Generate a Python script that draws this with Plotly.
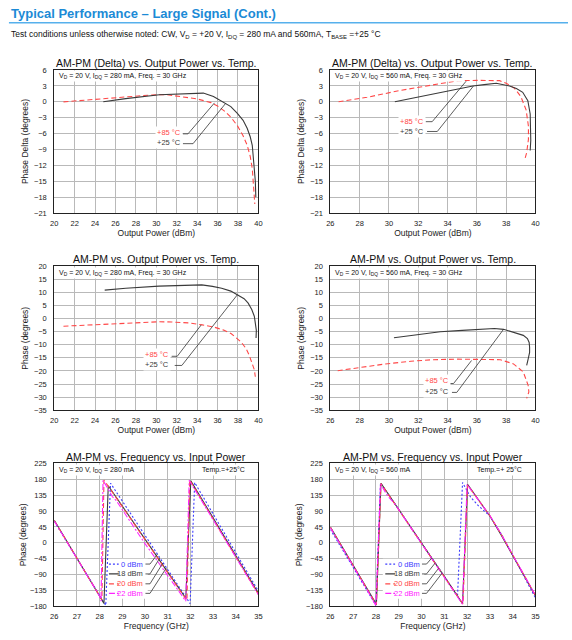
import plotly.graph_objects as go

FONT = "Liberation Sans, Arial, sans-serif"

# ---------------- DATA ----------------
# Plot 1: AM-PM (Delta), IDQ = 280 mA
p1_pout_25 = [24.8, 27.0, 30.3, 32.5, 34.6, 35.6, 36.65, 37.3, 37.94, 38.5, 38.9, 39.2, 39.4, 39.6, 39.7, 39.75]
p1_delta_25 = [0.0, 0.6, 1.35, 1.5, 1.65, 1.0, -0.1, -0.9, -2.2, -3.5, -5.0, -6.6, -8.2, -11.9, -15.0, -18.0]
p1_pout_85 = [20.9, 22.0, 24.8, 27.0, 29.5, 31.0, 32.5, 34.0, 35.36, 36.0, 36.65, 37.3, 37.94, 38.5, 38.9, 39.2, 39.4, 39.55, 39.65]
p1_delta_85 = [0.0, 0.15, 0.55, 0.95, 1.3, 1.35, 1.0, 0.55, -0.15, -0.8, -1.7, -2.9, -4.5, -6.4, -8.2, -10.3, -12.6, -16.3, -19.3]

# Plot 2: AM-PM (Delta), IDQ = 560 mA
p2_pout_25 = [30.4, 32.0, 33.7, 35.73, 36.5, 37.32, 38.23, 38.7, 39.13, 39.48, 39.64, 39.68, 39.68, 39.64]
p2_delta_25 = [0.0, 0.9, 1.8, 3.0, 3.25, 3.5, 3.0, 2.5, 1.8, 0.2, -2.3, -4.8, -7.3, -9.2]
p2_pout_85 = [26.56, 28.5, 30.85, 33.0, 34.7, 36.0, 37.55, 38.0, 38.57, 39.0, 39.36, 39.52, 39.52, 39.4, 39.3]
p2_delta_85 = [0.0, 0.85, 2.2, 3.2, 4.0, 4.05, 4.0, 3.5, 2.56, 1.0, -1.5, -4.6, -7.1, -9.6, -10.6]

# Plot 3: AM-PM, IDQ = 280 mA
p3_pout_25 = [24.94, 27.0, 30.26, 32.5, 34.45, 35.5, 36.4, 37.3, 38.0, 38.6, 39.0, 39.35, 39.6, 39.75, 39.8, 39.77]
p3_phase_25 = [10.9, 11.6, 12.4, 12.7, 12.9, 12.3, 11.6, 10.5, 9.1, 7.6, 5.9, 3.5, 0.9, -2.5, -4.5, -7.4]
p3_pout_85 = [20.9, 22.5, 24.8, 27.5, 30.26, 31.5, 33.2, 34.5, 35.7, 36.6, 37.35, 38.3, 38.8, 39.1, 39.4, 39.6, 39.7]
p3_phase_85 = [-2.9, -2.6, -2.1, -1.6, -1.2, -1.3, -1.65, -2.4, -3.3, -4.4, -5.8, -8.9, -11.5, -14.0, -17.0, -19.5, -22.2]

# Plot 4: AM-PM, IDQ = 560 mA
p4_pout_25 = [30.34, 32.0, 33.5, 35.0, 36.4, 37.2, 37.82, 38.5, 39.17, 39.45, 39.57, 39.6, 39.6, 39.5, 39.4]
p4_phase_25 = [-7.3, -6.0, -5.0, -4.5, -4.1, -3.8, -4.1, -5.3, -6.4, -7.6, -9.1, -11.0, -12.9, -15.5, -17.9]
p4_pout_85 = [26.5, 28.0, 29.66, 31.5, 33.0, 34.68, 36.5, 37.6, 38.5, 39.17, 39.5, 39.55, 39.4]
p4_phase_85 = [-19.9, -18.7, -17.4, -16.3, -15.7, -15.5, -15.5, -15.7, -17.3, -20.4, -25.5, -28.0, -30.5]

# Plot 5: AM-PM vs Frequency, IDQ = 280 mA
p5_f_0 = [26.0, 26.5, 27.0, 27.5, 28.0, 28.27, 28.48, 29.0, 29.5, 30.0, 30.5, 31.0, 31.5, 31.99, 32.19, 32.5, 33.0, 33.5, 34.0, 34.5, 35.0]
p5_ph_0 = [61, 8, -45, -98, -151, -177, 169, 119, 71, 22, -27, -75, -124, -172, 171, 137, 82, 27, -27, -82, -137]
p5_f_18 = [26.0, 26.5, 27.0, 27.5, 28.0, 28.19, 28.38, 29.0, 29.5, 30.0, 30.5, 31.0, 31.5, 31.8, 32.02, 32.5, 33.0, 33.5, 34.0, 34.5, 35.0]
p5_ph_18 = [64, 11, -42, -95, -149, -172, 162, 105, 58, 11, -36, -83, -129, -157, 176, 125, 71, 18, -36, -89, -143]
p5_f_20 = [26.0, 26.5, 27.0, 27.5, 28.0, 28.1, 28.19, 28.5, 29.0, 29.5, 30.0, 30.5, 31.0, 31.5, 31.85, 31.97, 32.5, 33.0, 33.5, 34.0, 34.5, 35.0]
p5_ph_20 = [63, 10, -43, -96, -150, -161, 178, 149, 102, 56, 9, -37, -83, -130, -163, 178, 122, 69, 15, -39, -92, -146]
p5_f_22 = [26.0, 26.5, 27.0, 27.5, 28.0, 28.06, 28.15, 28.35, 28.55, 28.75, 29.0, 29.3, 29.6, 30.0, 30.5, 31.0, 31.5, 31.8, 31.95, 32.5, 33.0, 33.5, 34.0, 34.5, 35.0]
p5_ph_22 = [62, 9, -44, -97, -151, -165, 177, 155, 132, 118, 93, 66, 36, -2, -47, -92, -137, -165, 177, 120, 67, 13, -40, -94, -147]

# Plot 6: AM-PM vs Frequency, IDQ = 560 mA
p6_f_0 = [26.0, 26.5, 27.0, 27.5, 28.0, 28.2, 28.5, 29.0, 29.5, 30.0, 30.5, 31.0, 31.58, 31.8, 32.16, 32.5, 33.0, 33.5, 34.0, 34.5, 35.0]
p6_ph_0 = [38, -16, -70, -124, -177, 170, 142, 95, 48, 1, -47, -95, -150, 171, 129, 105, 76, 25, -35, -95, -156]
p6_f_18 = [26.0, 26.5, 27.0, 27.5, 28.02, 28.22, 28.5, 29.0, 29.5, 30.0, 30.5, 31.0, 31.5, 31.8, 32.02, 32.5, 33.0, 33.5, 34.0, 34.5, 35.0]
p6_ph_18 = [45, -9, -63, -118, -174, 169, 142, 95, 47, 0, -48, -95, -143, -172, 166, 121, 76, 22, -35, -92, -150]
p6_f_20 = [26.0, 26.5, 27.0, 27.5, 28.02, 28.22, 28.5, 29.0, 29.5, 30.0, 30.5, 31.0, 31.5, 31.82, 32.02, 32.5, 33.0, 33.5, 34.0, 34.5, 35.0]
p6_ph_20 = [44, -10, -64, -119, -175, 168, 141, 94, 46, -1, -49, -96, -144, -173, 164, 121, 77, 24, -33, -91, -149]
p6_f_22 = [26.0, 26.5, 27.0, 27.5, 28.0, 28.2, 28.4, 28.55, 28.8, 29.0, 29.5, 30.0, 30.5, 31.0, 31.5, 31.8, 32.0, 32.5, 33.0, 33.5, 34.0, 34.5, 35.0]
p6_ph_22 = [43, -11, -65, -120, -178, 167, 145, 130, 113, 94, 47, 0, -48, -96, -144, -174, 165, 121, 77, 24, -33, -91, -149]

# tick values
pout_ticks_a = [20, 22, 24, 26, 28, 30, 32, 34, 36, 38, 40]
pout_ticks_b = [26, 28, 30, 32, 34, 36, 38, 40]
delta_ticks = [-21, -18, -15, -12, -9, -6, -3, 0, 3, 6]
phase_ticks = [-35, -30, -25, -20, -15, -10, -5, 0, 5, 10, 15, 20]
freq_ticks = [26, 27, 28, 29, 30, 31, 32, 33, 34, 35]
fphase_ticks = [-180, -135, -90, -45, 0, 45, 90, 135, 180, 225]

# ---------------- STYLE ----------------
BLACK = "#3a3a3a"
RED = "#ff4848"
BLUE = "#3c3cff"
MAG = "#ff22ff"
GRID = "#b9b9b9"

fig = go.Figure()


def line(x, y, ax, color, dash, name, width=1.1):
    fig.add_trace(go.Scatter(x=x, y=y, mode="lines", name=name, showlegend=False,
                             xaxis="x" + ax, yaxis="y" + ax,
                             line=dict(color=color, dash=dash, width=width)))


line(p1_pout_85, p1_delta_85, "", RED, "5px,3px", "+85 °C")
line(p1_pout_25, p1_delta_25, "", BLACK, "solid", "+25 °C")
line(p2_pout_85, p2_delta_85, "2", RED, "5px,3px", "+85 °C")
line(p2_pout_25, p2_delta_25, "2", BLACK, "solid", "+25 °C")
line(p3_pout_85, p3_phase_85, "3", RED, "5px,3px", "+85 °C")
line(p3_pout_25, p3_phase_25, "3", BLACK, "solid", "+25 °C")
line(p4_pout_85, p4_phase_85, "4", RED, "5px,3px", "+85 °C")
line(p4_pout_25, p4_phase_25, "4", BLACK, "solid", "+25 °C")

line(p5_f_0, p5_ph_0, "5", BLUE, "2px,2px", "0 dBm")
line(p5_f_18, p5_ph_18, "5", BLACK, "solid", "18 dBm")
line(p5_f_20, p5_ph_20, "5", RED, "5px,3px", "20 dBm")
line(p5_f_22, p5_ph_22, "5", MAG, "6px,2px,2px,2px", "22 dBm")
line(p6_f_0, p6_ph_0, "6", BLUE, "2px,2px", "0 dBm")
line(p6_f_18, p6_ph_18, "6", BLACK, "solid", "18 dBm")
line(p6_f_20, p6_ph_20, "6", RED, "5px,3px", "20 dBm")
line(p6_f_22, p6_ph_22, "6", MAG, "6px,2px,2px,2px", "22 dBm")

XL = [51 / 572, 258 / 572]
XR = [331 / 572, 539 / 572]
R1 = [1 - 212 / 640, 1 - 67 / 640]
R2 = [1 - 412 / 640, 1 - 266 / 640]
R3 = [1 - 611 / 640, 1 - 466 / 640]


def axis(domain, rng, tickvals, anchor, title, standoff, lblstand):
    return dict(domain=domain, range=rng, tickvals=tickvals, anchor=anchor,
                showgrid=True, gridcolor=GRID, gridwidth=1, zeroline=False,
                showline=True, mirror=True, linecolor="#222", linewidth=1,
                ticks="", ticklabelstandoff=lblstand,
                tickfont=dict(family=FONT, size=7.5, color="#222"),
                title=dict(text=title, standoff=standoff,
                           font=dict(family=FONT, size=8.5, color="#222")),
                fixedrange=True)


lay = dict(
    xaxis=axis(XL, [20, 40], pout_ticks_a, "y", "Output Power (dBm)", 0, 3),
    yaxis=axis(R1, [-21, 6], delta_ticks, "x", "Phase Delta (degrees)", 4, 5),
    xaxis2=axis(XR, [26, 40], pout_ticks_b, "y2", "Output Power (dBm)", 0, 3),
    yaxis2=axis(R1, [-21, 6], delta_ticks, "x2", "Phase Delta (degrees)", 4, 5),
    xaxis3=axis(XL, [20, 40], pout_ticks_a, "y3", "Output Power (dBm)", 0, 3),
    yaxis3=axis(R2, [-35, 20], phase_ticks, "x3", "Phase (degrees)", 4, 5),
    xaxis4=axis(XR, [26, 40], pout_ticks_b, "y4", "Output Power (dBm)", 0, 3),
    yaxis4=axis(R2, [-35, 20], phase_ticks, "x4", "Phase (degrees)", 4, 5),
    xaxis5=axis(XL, [26, 35], freq_ticks, "y5", "Frequency (GHz)", 1, 3),
    yaxis5=axis(R3, [-180, 225], fphase_ticks, "x5", "Phase (degrees)", 1, 5),
    xaxis6=axis(XR, [26, 35], freq_ticks, "y6", "Frequency (GHz)", 1, 3),
    yaxis6=axis(R3, [-180, 225], fphase_ticks, "x6", "Phase (degrees)", 1, 5),
)

ann = []
shapes = []

# header
ann.append(dict(xref="paper", yref="paper", x=5 / 572, y=1 - 9.5 / 640, xanchor="left", yanchor="middle",
                text="<b>Typical Performance – Large Signal (Cont.)</b>", showarrow=False,
                font=dict(family=FONT, size=13, color="#1b8ad6")))
shapes.append(dict(type="line", xref="paper", yref="paper", x0=5 / 572, x1=1, y0=1 - 19 / 640, y1=1 - 19 / 640,
                   line=dict(color="#56b0ec", width=1.5)))
ann.append(dict(xref="paper", yref="paper", x=5 / 572, y=1 - 30.5 / 640, xanchor="left", yanchor="middle",
                text="Test conditions unless otherwise noted: CW, V<sub>D</sub> = +20 V, I<sub>DQ</sub> = 280 mA and 560mA, T<sub>BASE</sub> =+25 °C",
                showarrow=False, font=dict(family=FONT, size=8.5, color="#111")))

# subplot titles
titles = [("AM-PM (Delta) vs. Output Power vs. Temp.", XL, 59.5),
          ("AM-PM (Delta) vs. Output Power vs. Temp.", XR, 59.5),
          ("AM-PM vs. Output Power vs. Temp.", XL, 259),
          ("AM-PM vs. Output Power vs. Temp.", XR, 259),
          ("AM-PM vs. Frequency vs. Input Power", XL, 459),
          ("AM-PM vs. Frequency vs. Input Power", XR, 459)]
for t, xd, yp in titles:
    ann.append(dict(xref="paper", yref="paper", x=(xd[0] + xd[1]) / 2, y=1 - yp / 640,
                    xanchor="center", yanchor="middle", text=t, showarrow=False,
                    font=dict(family=FONT, size=10.5, color="#111")))

# condition insets
insets = [("", "V<sub>D</sub> = 20 V, I<sub>DQ</sub> = 280 mA, Freq. = 30 GHz"),
          ("2", "V<sub>D</sub> = 20 V, I<sub>DQ</sub> = 560 mA, Freq. = 30 GHz"),
          ("3", "V<sub>D</sub> = 20 V, I<sub>DQ</sub> = 280 mA, Freq. = 30 GHz"),
          ("4", "V<sub>D</sub> = 20 V, I<sub>DQ</sub> = 560 mA, Freq. = 30 GHz"),
          ("5", "V<sub>D</sub> = 20 V, I<sub>DQ</sub> = 280 mA"),
          ("6", "V<sub>D</sub> = 20 V, I<sub>DQ</sub> = 560 mA")]
for a, t in insets:
    ann.append(dict(xref="x" + a + " domain", yref="y" + a + " domain", x=0.015, y=0.955,
                    xanchor="left", yanchor="middle", text=t, showarrow=False, bgcolor="white",
                    font=dict(family=FONT, size=7, color="#111")))
for a, t in [("5", "Temp.=+25°C"), ("6", "Temp.=+ 25°C")]:
    ann.append(dict(xref="x" + a + " domain", yref="y" + a + " domain", x=0.945, y=0.955,
                    xanchor="right", yanchor="middle", text=t, showarrow=False, bgcolor="white",
                    font=dict(family=FONT, size=7, color="#111")))


def label(a, x, y, text, color):
    ann.append(dict(xref="x" + a, yref="y" + a, x=x, y=y, xanchor="center", yanchor="middle",
                    text=text, showarrow=False, bgcolor="white",
                    font=dict(family=FONT, size=7.5, color=color)))


def leader(a, pts):
    for (x0, y0), (x1, y1) in zip(pts[:-1], pts[1:]):
        shapes.append(dict(type="line", xref="x" + a, yref="y" + a, x0=x0, y0=y0, x1=x1, y1=y1,
                           line=dict(color="#333", width=0.8)))


# top-left
label("", 31.2, -5.85, "+85 °C", RED)
label("", 31.2, -7.7, "+25 °C", BLACK)
leader("", [(32.6, -6.05), (33.1, -6.05), (35.7, -0.2)])
leader("", [(32.6, -7.9), (33.6, -7.9), (36.8, -0.27)])
# top-right
label("2", 31.6, -3.7, "+85 °C", RED)
label("2", 31.6, -5.6, "+25 °C", BLACK)
leader("2", [(32.5, -3.75), (32.95, -3.75), (35.27, 3.9)])
leader("2", [(32.6, -5.6), (33.3, -5.6), (35.76, 2.96)])
# mid-left
label("3", 30.05, -13.8, "+85 °C", RED)
label("3", 30.05, -17.5, "+25 °C", BLACK)
leader("3", [(31.5, -14.4), (32.05, -14.4), (34.4, -2.4)])
leader("3", [(31.8, -17.9), (32.5, -17.9), (37.94, 9.1)])
# mid-right
label("4", 33.29, -23.6, "+85 °C", RED)
label("4", 33.29, -27.7, "+25 °C", BLACK)
leader("4", [(34.08, -24.8), (34.41, -24.8), (35.64, -16.0)])
leader("4", [(34.3, -28.2), (34.63, -28.2), (37.82, -4.1)])

# bottom legends
legend_items = [("0 dBm", BLUE, "2px,2px", -60), ("18 dBm", BLACK, "solid", -88),
                ("20 dBm", RED, "5px,3px", -116), ("22 dBm", MAG, "6px,2px,2px,2px", -143)]
ends5 = [(30.55, -32), (30.65, -43), (30.79, -57), (30.94, -71)]
ends6 = [(30.45, -43), (30.6, -57), (30.75, -72), (30.9, -86)]
for a, ends in [("5", ends5), ("6", ends6)]:
    shapes.append(dict(type="rect", xref="x" + a, yref="y" + a, x0=28.3, x1=30.12, y0=-158, y1=-45,
                       fillcolor="white", line=dict(width=0), layer="between"))
    for (t, c, d, yv), (ex, ey) in zip(legend_items, ends):
        shapes.append(dict(type="line", xref="x" + a, yref="y" + a, x0=28.41, x1=28.84, y0=yv, y1=yv,
                           line=dict(color=c, dash=d, width=1.2)))
        ann.append(dict(xref="x" + a, yref="y" + a, x=30.0, y=yv, xanchor="right", yanchor="middle",
                        text=t, showarrow=False, font=dict(family=FONT, size=7.5, color=c)))
        leader(a, [(30.02, yv), (30.22, yv), (ex, ey)])

fig.update_layout(
    width=572, height=640, margin=dict(l=0, r=0, t=0, b=0),
    paper_bgcolor="white", plot_bgcolor="white",
    font=dict(family=FONT, color="#222"),
    annotations=ann, shapes=shapes, showlegend=False,
    **lay,
)

fig.write_html("out.html", config={"displayModeBar": False},
               post_script="document.body.style.margin='0px';document.body.style.padding='0px';")
